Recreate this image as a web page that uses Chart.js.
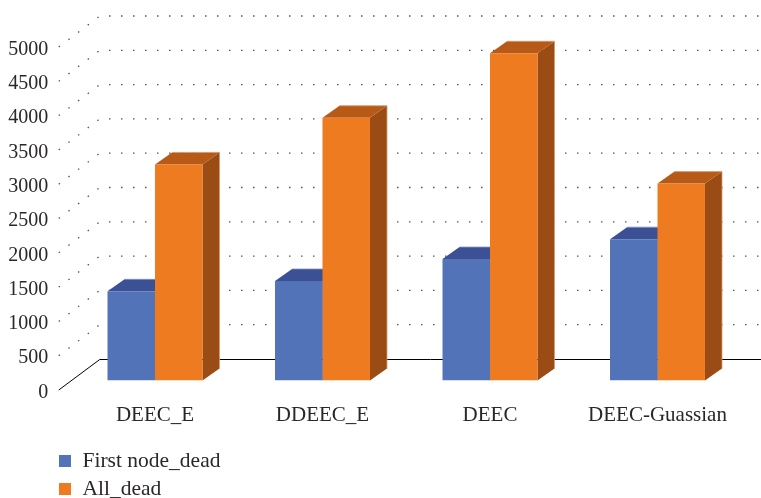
<!DOCTYPE html>
<html>
<head>
<meta charset="utf-8">
<title>Node lifetime by protocol</title>
<script src="https://cdn.jsdelivr.net/npm/chart.js@4/dist/chart.umd.min.js"></script>
<style>
  html, body { margin: 0; padding: 0; background: #fff; }
  canvas { display: block; }
</style>
</head>
<body>
<canvas id="lifetimeChart" width="761" height="498"></canvas>
<script>
const categories = ['DEEC_E', 'DDEEC_E', 'DEEC', 'DEEC-Guassian'];
const firstNodeDead = [1300, 1450, 1770, 2060];
const allDead = [3150, 3830, 4770, 2870];
const yTicks = [0, 500, 1000, 1500, 2000, 2500, 3000, 3500, 4000, 4500, 5000];

const textColor = '#2b2728';
const fontFamily = '"Liberation Serif", serif';

// depth of the floor and of the bars, in pixels
const wallDx = 41, wallDy = 31;
const floorFrontDx = 12.5, floorFrontDy = 9.5;
const barDx = 17, barDy = 12;

const faceColors = [
  { front: '#5373b9', top: '#3c5195', side: '#3c5195', edge: '#8091bd' },
  { front: '#ee7b20', top: '#b85a17', side: '#9b4c15', edge: '#d09a70' }
];

// dotted gridlines on the side and back walls, solid line for the floor
const wallsPlugin = {
  id: 'walls',
  beforeDatasetsDraw(chart) {
    const ctx = chart.ctx;
    const y = chart.scales.y;
    const frontX = chart.chartArea.left - floorFrontDx;
    const backX = frontX + wallDx;
    ctx.save();
    y.ticks.forEach(tick => {
      const frontY = y.getPixelForValue(tick.value) + floorFrontDy;
      const backY = frontY - wallDy;
      if (tick.value === 0) {
        ctx.setLineDash([]);
        ctx.strokeStyle = '#000';
        ctx.lineWidth = 1;
        ctx.beginPath();
        ctx.moveTo(frontX, frontY);
        ctx.lineTo(backX, Math.floor(backY) + 0.5);
        ctx.lineTo(chart.width, Math.floor(backY) + 0.5);
        ctx.stroke();
        return;
      }
      ctx.strokeStyle = '#555';
      ctx.lineWidth = 1.3;
      ctx.setLineDash([1.5, 10.6]);
      ctx.beginPath();
      ctx.moveTo(frontX, frontY);
      ctx.lineTo(backX, backY);
      ctx.stroke();
      ctx.setLineDash([1.5, 10.5]);
      ctx.beginPath();
      ctx.moveTo(109, backY);
      ctx.lineTo(chart.width, backY);
      ctx.stroke();
    });
    ctx.restore();
  }
};

// top and side faces of each bar, the front face is the library's own bar
const barFacesPlugin = {
  id: 'barFaces',
  beforeDatasetsDraw(chart) {
    const ctx = chart.ctx;
    ctx.save();
    chart.data.datasets.forEach((ds, i) => {
      const c = faceColors[i];
      chart.getDatasetMeta(i).data.forEach(bar => {
        const left = bar.x - bar.width / 2;
        const right = bar.x + bar.width / 2;
        ctx.fillStyle = c.side;
        ctx.beginPath();
        ctx.moveTo(right, bar.y);
        ctx.lineTo(right + barDx, bar.y - barDy);
        ctx.lineTo(right + barDx, bar.base - barDy);
        ctx.lineTo(right, bar.base);
        ctx.closePath();
        ctx.fill();

        ctx.fillStyle = c.top;
        ctx.beginPath();
        ctx.moveTo(left, bar.y);
        ctx.lineTo(left + barDx, bar.y - barDy);
        ctx.lineTo(right + barDx, bar.y - barDy);
        ctx.lineTo(right, bar.y);
        ctx.closePath();
        ctx.fill();

        // thin lighter edge along the back of the box
        ctx.strokeStyle = c.edge;
        ctx.lineWidth = 0.8;
        ctx.beginPath();
        ctx.moveTo(left + barDx, bar.y - barDy);
        ctx.lineTo(right + barDx, bar.y - barDy);
        ctx.lineTo(right + barDx, bar.base - barDy);
        ctx.stroke();
      });
    });
    ctx.restore();
  }
};

// stacked legend under the left of the plot
const legendPlugin = {
  id: 'stackedLegend',
  afterDraw(chart) {
    const ctx = chart.ctx;
    const rows = [461, 489];
    ctx.save();
    ctx.font = '21.5px ' + fontFamily;
    ctx.textBaseline = 'middle';
    ctx.textAlign = 'left';
    chart.data.datasets.forEach((ds, i) => {
      ctx.fillStyle = ds.backgroundColor;
      ctx.fillRect(59, rows[i] - 6, 12, 12);
      ctx.fillStyle = textColor;
      ctx.fillText(ds.label, 82.5, rows[i]);
    });
    ctx.restore();
  }
};

new Chart(document.getElementById('lifetimeChart'), {
  type: 'bar',
  data: {
    labels: categories,
    datasets: [
      { label: 'First node_dead', data: firstNodeDead, backgroundColor: faceColors[0].front },
      { label: 'All_dead', data: allDead, backgroundColor: faceColors[1].front }
    ]
  },
  options: {
    responsive: false,
    animation: false,
    layout: { padding: { top: 37.5, right: 19.75, left: 0, bottom: 0 } },
    datasets: { bar: { categoryPercentage: 0.567, barPercentage: 1, borderWidth: 0 } },
    plugins: {
      legend: { display: false },
      tooltip: { enabled: false }
    },
    scales: {
      x: {
        grid: { display: false, drawTicks: false },
        border: { display: false },
        ticks: {
          color: textColor,
          padding: 22,
          maxRotation: 0,
          font: { family: fontFamily, size: 21 }
        },
        afterFit: s => { s.height = 117.5; }
      },
      y: {
        min: 0,
        max: 5000,
        grid: { display: false, drawTicks: false },
        border: { display: false },
        afterBuildTicks: s => { s.ticks = yTicks.map(v => ({ value: v })); },
        ticks: {
          color: textColor,
          padding: 23,
          labelOffset: 12,
          callback: v => String(v),
          font: { family: fontFamily, size: 20 }
        },
        afterFit: s => { s.width = 71.25; }
      }
    }
  },
  plugins: [wallsPlugin, barFacesPlugin, legendPlugin]
});
</script>
</body>
</html>
